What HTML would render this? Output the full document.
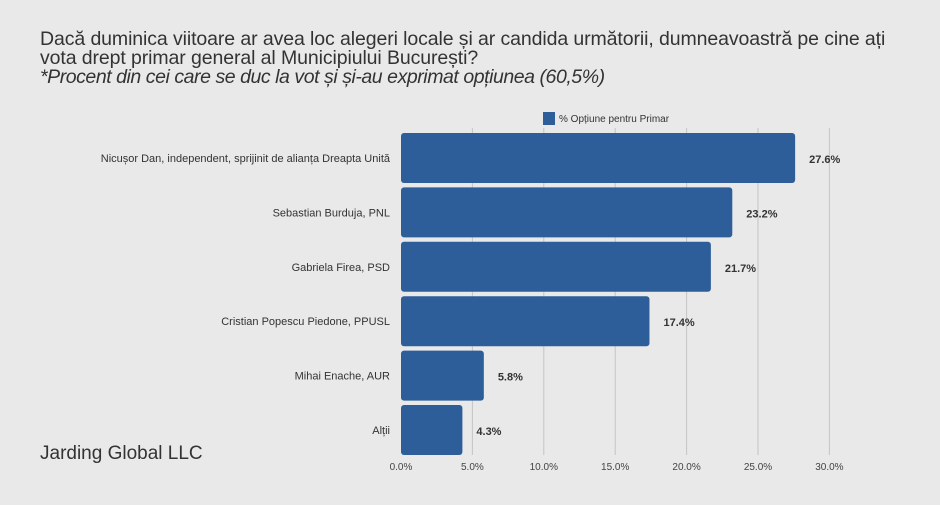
<!DOCTYPE html>
<html><head><meta charset="utf-8"><style>
body{margin:0;width:940px;height:505px;background:#e9e9e9;font-family:"Liberation Sans",sans-serif;overflow:hidden;position:relative}
.t{position:absolute;left:40px;color:#333;font-size:19.5px;line-height:19px}
</style></head><body>
<div class="t" style="top:30px;letter-spacing:-0.1px">Dacă duminica viitoare ar avea loc alegeri locale și ar candida următorii, dumneavoastră pe cine ați<br>vota drept primar general al Municipiului București?<br><i style="letter-spacing:-0.45px">*Procent din cei care se duc la vot și și-au exprimat opțiunea (60,5%)</i></div>
<div class="t" style="top:444px;font-size:19px">Jarding Global LLC</div>
<svg id="c" width="940" height="505" style="position:absolute;left:0;top:0"></svg>
<script>
const categories=["Nicușor Dan, independent, sprijinit de alianța Dreapta Unită","Sebastian Burduja, PNL","Gabriela Firea, PSD","Cristian Popescu Piedone, PPUSL","Mihai Enache, AUR","Alții"];
const values=[27.6,23.2,21.7,17.4,5.8,4.3];
const ticks=[0,5,10,15,20,25,30];
const svg=document.getElementById('c'),NS="http://www.w3.org/2000/svg";
const x=v=>401+v*14.28;
const y0=133,step=54.4,bh=50;
function mk(t,a,p){const e=document.createElementNS(NS,t);for(const k in a)e.setAttribute(k,a[k]);(p||svg).appendChild(e);return e;}
ticks.forEach(t=>{
 if(t>0){const l=mk('line',{x1:x(t),x2:x(t),y1:128,y2:455,stroke:'#c4c4c4','stroke-width':1});
 
 }
 const tx=mk('text',{x:x(t),y:470,'text-anchor':'middle','font-size':10,fill:'#444'});tx.textContent=t.toFixed(1)+'%';
 
 
});
categories.forEach((c,i)=>{
 const top=y0+i*step;
 const r=mk('rect',{x:x(0),y:top,width:x(values[i])-x(0),height:bh,rx:3,fill:'#2e5e99'});
 
 
 const lt=mk('text',{x:390,y:top+bh/2+4,'text-anchor':'end','font-size':11,fill:'#333'});lt.textContent=c;
 
 
 const vt=mk('text',{x:x(values[i])+14,y:top+bh/2+5,'font-size':11,'font-weight':'bold',fill:'#333'});vt.textContent=values[i].toFixed(1)+'%';
 
 
});
const lg=mk('rect',{x:543,y:112,width:12,height:13,fill:'#2e5e99'});


const lgt=mk('text',{x:559,y:122,'font-size':10,fill:'#333'});lgt.textContent='% Opțiune pentru Primar';


</script>
</body></html>
